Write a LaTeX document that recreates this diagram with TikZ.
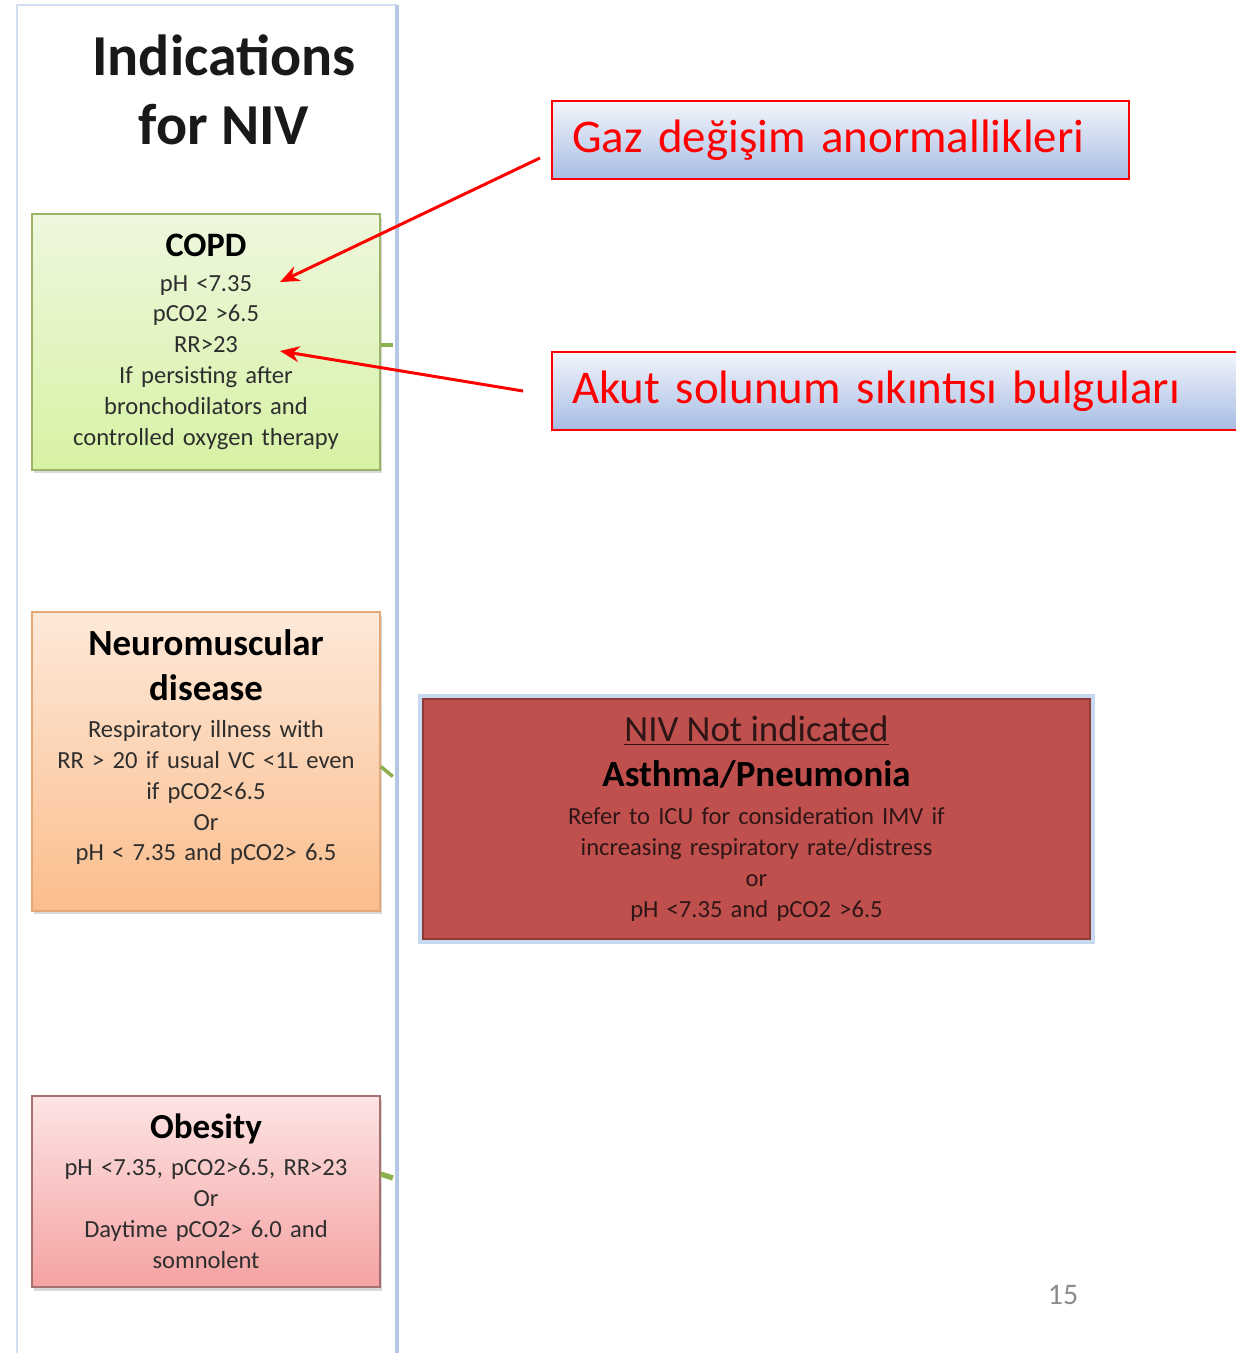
\documentclass[tikz,border=0pt]{standalone}
\usepackage{fontspec}
\setmainfont{Carlito}
\usetikzlibrary{arrows.meta,shadows}

\definecolor{panelblue}{HTML}{B4C7E7}
\definecolor{panellight}{HTML}{D2DEF1}
\definecolor{copdtop}{HTML}{EEF7DE}
\definecolor{copdbot}{HTML}{D6F2A4}
\definecolor{copdline}{HTML}{9CB46A}
\definecolor{neurotop}{HTML}{FDE9D9}
\definecolor{neurobot}{HTML}{FBBD8C}
\definecolor{neuroline}{HTML}{E3A878}
\definecolor{obtop}{HTML}{FDE4E4}
\definecolor{obbot}{HTML}{F5A2A2}
\definecolor{obline}{HTML}{A67070}
\definecolor{nivred}{HTML}{C0504D}
\definecolor{nivline}{HTML}{8E3A37}
\definecolor{nivtext}{HTML}{2E1616}
\definecolor{glowblue}{HTML}{C6D9F1}
\definecolor{notetop}{HTML}{F2F5FB}
\definecolor{notebot}{HTML}{A8BDE4}
\definecolor{bodytext}{HTML}{2E2E2E}
\definecolor{stubgreen}{HTML}{8DB04E}
\definecolor{pagegray}{HTML}{8C8C8C}

\newcommand{\boxhead}[2]{{\fontsize{#1}{#1}\selectfont\bfseries\color{black}#2}}

\begin{document}
\begin{tikzpicture}[x=0.02cm, y=-0.02cm,
    box/.style={draw, line width=1pt, inner sep=0pt, minimum width=6.96cm,
        text width=6.9cm, align=center, text=bodytext,
        font=\fontsize{14}{17.6}\selectfont,
        drop shadow={opacity=0.3, shadow xshift=1pt, shadow yshift=-2pt}},
    nivbox/.style={box, fill=nivred, draw=nivline, text=nivtext,
        minimum width=13.34cm, text width=13cm, minimum height=4.8cm,
        preaction={draw=glowblue, line width=6pt}},
    note/.style={draw=red, line width=1.2pt, inner ysep=0pt, inner xsep=0.4cm,
        top color=notetop, bottom color=notebot, minimum height=1.56cm,
        anchor=west, align=left, text=red, font=\fontsize{26.7}{32}\selectfont},
    pointer/.style={-{Stealth[length=11pt,width=9pt]}, red, line width=1.7pt},
    stub/.style={stubgreen, line width=2pt}
]
    \useasboundingbox (0,0) rectangle (1236,1353);

    % Panel
    \draw[panellight, line width=1.5pt] (17,1360) -- (17,5) -- (397,5);
    \draw[panelblue, line width=2.5pt] (397,5) -- (397,1360);

    \node[font=\fontsize{33}{39}\selectfont\bfseries, align=center, text=black!90] (title) at (224,90) {Indications\\for NIV};

    % Boxes
    \node[box, top color=copdtop, bottom color=copdbot, draw=copdline, minimum height=5.12cm] (copd) at (206,342)
        {\boxhead{19.5}{COPD}\\[2pt] pH <7.35\\ pCO2 >6.5\\ RR>23\\ If persisting after\\ bronchodilators and\\ controlled oxygen therapy};

    \node[box, top color=neurotop, bottom color=neurobot, draw=neuroline, minimum height=5.98cm] (neuro) at (206,761.5)
        {\boxhead{21}{Neuromuscular}\\[8pt] \boxhead{21}{disease}\\[3.5pt] Respiratory illness with\\ RR > 20 if usual  VC <1L even\\ if  pCO2<6.5\\ Or\\ pH <  7.35 and  pCO2> 6.5\\[1pt]\mbox{}};

    \node[box, top color=obtop, bottom color=obbot, draw=obline, minimum height=3.82cm] (obesity) at (206,1191.5)
        {\boxhead{20}{Obesity}\\[3.5pt] pH  <7.35, pCO2>6.5, RR>23\\ Or\\ Daytime pCO2> 6.0 and\\ somnolent};

    \node[nivbox] (niv) at (756.5,819)
        {{\fontsize{21}{21}\selectfont\underline{NIV Not indicated}}\\[8pt] \boxhead{21}{Asthma/Pneumonia}\\[4pt] Refer to ICU for consideration IMV if\\ increasing respiratory rate/distress\\ or\\ pH <7.35 and pCO2 >6.5};

    % Stubs
    \draw[stub] ([yshift=-0.06cm]copd.east) -- ++(12,0);
    \draw[stub] ([yshift=-0.1cm]neuro.east) -- ++(12,10);
    \draw[stub, line width=3pt] ([yshift=0.35cm]obesity.east) -- ++(12,4);

    % Notes
    \node[note, text width=10.74cm] (gaz) at (551,140) {Gaz değişim anormallikleri};
    \node[note, text width=13.6cm] (akut) at (551,391) {Akut solunum sıkıntısı bulguları};

    % Arrows
    \coordinate (gaztip) at (280,282);
    \coordinate (akuttip) at (280,351);
    \draw[pointer] ([xshift=-0.22cm,yshift=-0.36cm]gaz.west) -- (gaztip);
    \draw[pointer] ([xshift=-0.56cm]akut.west) -- (akuttip);

    \node[text=pagegray, font=\fontsize{17}{20}\selectfont] (page) at (1063,1295) {15};
\end{tikzpicture}
\end{document}
